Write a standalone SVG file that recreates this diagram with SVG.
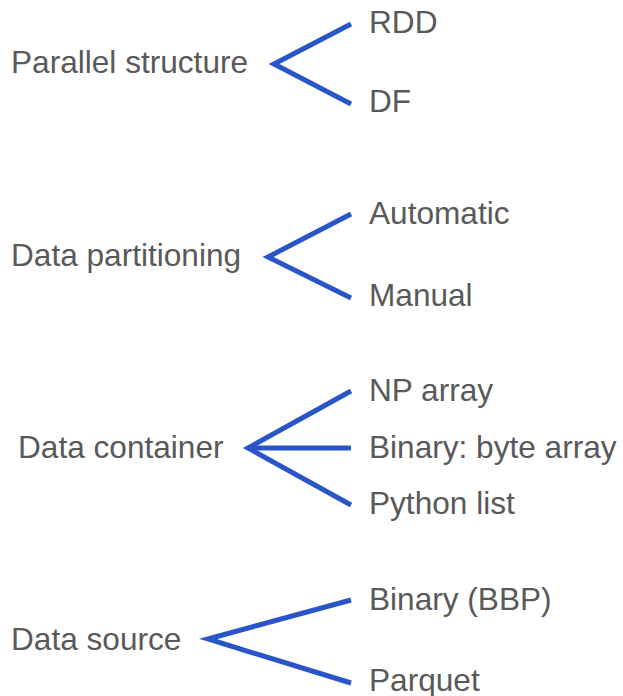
<svg xmlns="http://www.w3.org/2000/svg" width="623" height="696" viewBox="0 0 623 696">
  <style>
    text { font-family: "Liberation Sans", Arial, sans-serif; font-size: 31.6px; fill: #595959; }
    .link { stroke: #2a55c8; stroke-width: 5; fill: none; stroke-linecap: butt; stroke-linejoin: miter; }
  </style>
  <rect width="623" height="696" fill="#ffffff"/>

  <!-- branching connectors -->
  <g id="connectors">
    <polyline class="link" points="351,24 274,64 351,104"/>
    <polyline class="link" points="351,214 268,257 351,298"/>
    <polyline class="link" points="351,391 248,448 351,505"/>
    <line class="link" x1="248" y1="448" x2="351" y2="448"/>
    <polyline class="link" points="351,600 208,639 351,683"/>
  </g>

  <g id="parallel-structure"><text x="11" y="73">Parallel structure</text></g>
  <g id="rdd"><text x="369" y="33">RDD</text></g>
  <g id="df"><text x="369" y="112">DF</text></g>

  <g id="data-partitioning"><text x="11" y="266">Data partitioning</text></g>
  <g id="automatic"><text x="369" y="224">Automatic</text></g>
  <g id="manual"><text x="369" y="306">Manual</text></g>

  <g id="data-container"><text x="18" y="458">Data container</text></g>
  <g id="np-array"><text x="369" y="401">NP array</text></g>
  <g id="binary-byte-array"><text x="369" y="458">Binary: byte array</text></g>
  <g id="python-list"><text x="369" y="514">Python list</text></g>

  <g id="data-source"><text x="11" y="650">Data source</text></g>
  <g id="binary-bbp"><text x="369" y="610">Binary (BBP)</text></g>
  <g id="parquet"><text x="369" y="691">Parquet</text></g>
</svg>
